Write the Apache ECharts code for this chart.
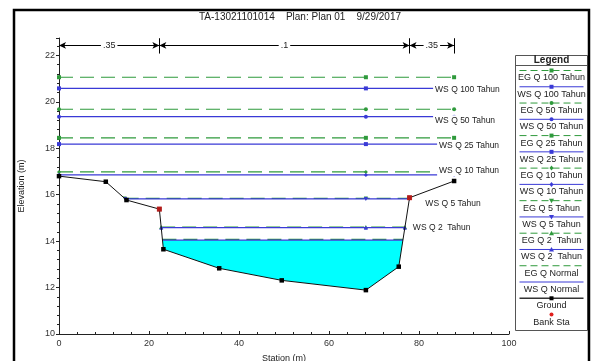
<!DOCTYPE html>
<html>
<head>
<meta charset="utf-8">
<script src="https://cdn.jsdelivr.net/npm/echarts@6/dist/echarts.min.js"></script>
<style>html,body{margin:0;padding:0;background:#fff}#c{width:591px;height:361px}</style>
</head>
<body>
<div id="c"></div>
<script>
// ---------- data ----------
const groundStation = [0, 10.4, 15.0, 22.3, 23.2, 35.6, 49.5, 68.2, 75.5, 77.9, 87.8];
const groundElev    = [16.80, 16.56, 15.77, 15.38, 13.65, 12.83, 12.31, 11.89, 12.90, 15.87, 16.59];
const bankStations  = [22.3, 77.9];
const profiles      = ['Q 100 Tahun', 'Q 50 Tahun', 'Q 25 Tahun', 'Q 10 Tahun', 'Q 5 Tahun', 'Q 2  Tahun', 'Q Normal'];
const wsElev        = [20.58, 19.36, 18.18, 16.85, 15.82, 14.58, 14.04];
const egElev        = [21.06, 19.68, 18.45, 16.98, 15.84, 14.61, 14.08];
const manningN      = ['.35', '.1', '.35'];
const manningBreaks = [0, 22.3, 77.9, 87.8];
const titleText     = 'TA-13021101014    Plan: Plan 01    9/29/2017';
const xAxisName     = 'Station (m)';
const yAxisName     = 'Elevation (m)';

// ---------- style ----------
const FONT = "'Liberation Sans', Arial, sans-serif";
const EG_COLOR = '#2f9a3c';
const WS_COLOR = '#3a3ad6';
const profileSymbols = ['rect', 'circle', 'rect', 'diamond', 'triangle', 'triangle', 'none'];
const profileRotate  = [0, 0, 0, 0, 180, 0, 0];
const wsLabelOffset  = [[-23, 1], [-23, 4], [-19, 2], [-19, -4], [12, 5], [4, 0], null];

// ---------- helpers ----------
const iMin = groundElev.indexOf(Math.min.apply(null, groundElev));
const thalweg = groundStation[iMin];
function wetExtent(level) {
  let left = groundStation[0], right = groundStation[groundStation.length - 1];
  for (let i = iMin; i > 0; i--) {
    if (groundElev[i - 1] >= level) {
      const t = (level - groundElev[i]) / (groundElev[i - 1] - groundElev[i]);
      left = groundStation[i] + t * (groundStation[i - 1] - groundStation[i]);
      break;
    }
  }
  for (let i = iMin; i < groundStation.length - 1; i++) {
    if (groundElev[i + 1] >= level) {
      const t = (level - groundElev[i]) / (groundElev[i + 1] - groundElev[i]);
      right = groundStation[i] + t * (groundStation[i + 1] - groundStation[i]);
      break;
    }
  }
  return [left, right];
}

// water fill polygon (lowest profile)
const nLow = wsElev.length - 1;
const lowExt = wetExtent(wsElev[nLow]);
const fillPts = [[lowExt[0], wsElev[nLow]]];
groundStation.forEach((s, i) => { if (s > lowExt[0] && s < lowExt[1]) fillPts.push([s, groundElev[i]]); });
fillPts.push([lowExt[1], wsElev[nLow]]);

const series = [];
series.push({
  type: 'custom', name: 'fill', silent: true, z: 1,
  data: [[lowExt[0], wsElev[nLow]]],
  renderItem: function (params, api) {
    return { type: 'polygon', shape: { points: fillPts.map(p => api.coord(p)) }, style: { fill: '#00ffff', stroke: 'none' } };
  }
});

profiles.forEach((p, i) => {
  const e = wetExtent(egElev[i]);
  series.push({
    type: 'line', name: 'EG ' + p, z: 2,
    data: [[e[0], egElev[i]], [thalweg, egElev[i]], [e[1], egElev[i]]],
    symbol: profileSymbols[i], symbolSize: 4, symbolRotate: profileRotate[i], showSymbol: profileSymbols[i] !== 'none',
    lineStyle: { color: EG_COLOR, width: 1.2, type: [14, 7] },
    itemStyle: { color: EG_COLOR }
  });
  const w = wetExtent(wsElev[i]);
  const last = { value: [w[1], wsElev[i]] };
  if (wsLabelOffset[i]) {
    last.label = {
      show: true, formatter: 'WS ' + p, position: 'right', distance: 0, offset: wsLabelOffset[i],
      backgroundColor: '#fff', padding: [1, 2], color: '#222', fontSize: 8.5, fontFamily: FONT
    };
  }
  series.push({
    type: 'line', name: 'WS ' + p, z: 3,
    data: [[w[0], wsElev[i]], [thalweg, wsElev[i]], last],
    symbol: profileSymbols[i], symbolSize: 4, symbolRotate: profileRotate[i], showSymbol: profileSymbols[i] !== 'none',
    lineStyle: { color: WS_COLOR, width: 1.2 },
    itemStyle: { color: WS_COLOR }
  });
});

series.push({
  type: 'line', name: 'Ground', z: 5,
  data: groundStation.map((s, i) => [s, groundElev[i]]),
  symbol: 'rect', symbolSize: 4.5,
  lineStyle: { color: '#111', width: 1 }, itemStyle: { color: '#000' }
});
series.push({
  type: 'scatter', name: 'Bank Sta', z: 6,
  data: bankStations.map(b => [b, groundElev[groundStation.indexOf(b)]]),
  symbol: 'rect', symbolSize: 5, itemStyle: { color: '#e0201e' }
});

// Manning's n annotation at top
const nY = 22.43;
const mlData = [];
manningN.forEach((n, i) => {
  mlData.push([
    { coord: [manningBreaks[i], nY], label: { show: true, formatter: n } },
    { coord: [manningBreaks[i + 1], nY] }
  ]);
});
for (let i = 1; i < manningBreaks.length; i++) {
  mlData.push([
    { coord: [manningBreaks[i], 22.08], symbol: 'none', label: { show: false } },
    { coord: [manningBreaks[i], 22.74], symbol: 'none' }
  ]);
}
series.push({
  type: 'line', name: 'nvalues', data: [], z: 4,
  markLine: {
    silent: true, symbol: ['arrow', 'arrow'], symbolSize: [5, 7],
    lineStyle: { color: '#000', width: 1, type: 'solid' },
    label: { position: 'insideMiddle', backgroundColor: '#fff', padding: [0, 2], color: '#222', fontSize: 9, fontFamily: FONT },
    data: mlData
  }
});

// ---------- legend (graphic) ----------
const legendItems = [];
profiles.forEach((p, i) => {
  legendItems.push({ name: 'EG ' + p, kind: 'eg', sym: profileSymbols[i], rot: profileRotate[i] });
  legendItems.push({ name: 'WS ' + p, kind: 'ws', sym: profileSymbols[i], rot: profileRotate[i] });
});
legendItems.push({ name: 'Ground', kind: 'ground', sym: 'rect' });
legendItems.push({ name: 'Bank Sta', kind: 'bank', sym: 'circle' });

function marker(sym, rot, cx, cy, color) {
  if (sym === 'rect') return { type: 'rect', shape: { x: cx - 2, y: cy - 2, width: 4, height: 4 }, style: { fill: color }, z: 12 };
  if (sym === 'circle') return { type: 'circle', shape: { cx: cx, cy: cy, r: 2 }, style: { fill: color }, z: 12 };
  if (sym === 'diamond') return { type: 'polygon', shape: { points: [[cx, cy - 2.5], [cx + 2, cy], [cx, cy + 2.5], [cx - 2, cy]] }, style: { fill: color }, z: 12 };
  if (sym === 'triangle') {
    const pts = rot ? [[cx - 2.5, cy - 2], [cx + 2.5, cy - 2], [cx, cy + 2.5]] : [[cx - 2.5, cy + 2], [cx + 2.5, cy + 2], [cx, cy - 2.5]];
    return { type: 'polygon', shape: { points: pts }, style: { fill: color }, z: 12 };
  }
  return null;
}

const LX = 515.5, LY = 55.5, LW = 72, LH = 275, STEP = 16.27;
const graphics = [];
graphics.push({ type: 'rect', shape: { x: 14, y: 10, width: 575, height: 360 }, style: { fill: 'none', stroke: '#000', lineWidth: 2.5 }, z: 20 });
graphics.push({ type: 'rect', shape: { x: LX, y: LY, width: LW, height: LH }, style: { fill: '#fff', stroke: '#555', lineWidth: 1 }, z: 10 });
graphics.push({ type: 'text', x: LX + LW / 2, y: 60.5, style: { text: 'Legend', font: 'bold 10px ' + FONT, fill: '#222', align: 'center', verticalAlign: 'middle' }, z: 11 });
graphics.push({ type: 'line', shape: { x1: LX, y1: 65.5, x2: LX + LW, y2: 65.5 }, style: { stroke: '#555', lineWidth: 1 }, z: 11 });
legendItems.forEach((it, i) => {
  const ly = 70.5 + i * STEP, ty = 78 + i * STEP, cx = LX + LW / 2;
  if (it.kind === 'eg') {
    graphics.push({ type: 'line', shape: { x1: LX + 4, y1: ly, x2: LX + LW - 4, y2: ly }, style: { stroke: EG_COLOR, lineWidth: 1, lineDash: [7, 4] }, z: 11 });
  } else if (it.kind === 'ws') {
    graphics.push({ type: 'line', shape: { x1: LX + 4, y1: ly, x2: LX + LW - 4, y2: ly }, style: { stroke: WS_COLOR, lineWidth: 1 }, z: 11 });
  } else if (it.kind === 'ground') {
    graphics.push({ type: 'line', shape: { x1: LX + 4, y1: ly, x2: LX + LW - 4, y2: ly }, style: { stroke: '#333', lineWidth: 1.5 }, z: 11 });
  }
  const col = it.kind === 'eg' ? EG_COLOR : it.kind === 'ws' ? WS_COLOR : it.kind === 'ground' ? '#000' : '#e0201e';
  const m = marker(it.sym, it.rot, cx, ly, col);
  if (m) graphics.push(m);
  graphics.push({ type: 'text', x: cx, y: ty, style: { text: it.name, font: '9px ' + FONT, fill: '#222', align: 'center', verticalAlign: 'middle' }, z: 11 });
});

const chart = echarts.init(document.getElementById('c'), null, { renderer: 'canvas' });
chart.setOption({
  animation: false,
  backgroundColor: '#fff',
  title: { text: titleText, left: 199, top: 12, padding: 0, textStyle: { fontSize: 10, fontWeight: 'normal', color: '#222', fontFamily: FONT } },
  grid: { left: 59, right: 82, top: 38, bottom: 27, containLabel: false, outerBoundsMode: 'none' },
  xAxis: {
    type: 'value', min: 0, max: 100, interval: 20,
    name: xAxisName, nameLocation: 'middle', nameGap: 20,
    nameTextStyle: { fontSize: 9, color: '#222', fontFamily: FONT },
    axisLine: { lineStyle: { color: '#222', width: 1 } },
    axisTick: { show: true, inside: true, length: 3, lineStyle: { color: '#222' } },
    minorTick: { show: true, splitNumber: 5, length: 2, lineStyle: { color: '#222' } },
    axisLabel: { fontSize: 9, color: '#333', fontFamily: FONT, margin: 5 },
    splitLine: { show: false }
  },
  yAxis: {
    type: 'value', min: 10, max: 22.75, interval: 2,
    name: yAxisName, nameLocation: 'middle', nameGap: 33, nameRotate: 90,
    nameTextStyle: { fontSize: 9, color: '#222', fontFamily: FONT },
    axisLine: { show: true, lineStyle: { color: '#222', width: 1 } },
    axisTick: { show: true, inside: false, length: 3, lineStyle: { color: '#222' } },
    minorTick: { show: true, splitNumber: 5, length: 2, lineStyle: { color: '#222' } },
    axisLabel: { fontSize: 9, color: '#333', fontFamily: FONT, margin: 4, showMaxLabel: false,
      formatter: v => (Math.abs(v - Math.round(v)) < 1e-6 ? String(v) : '') },
    splitLine: { show: false }
  },
  graphic: graphics,
  series: series
});
</script>
</body>
</html>
